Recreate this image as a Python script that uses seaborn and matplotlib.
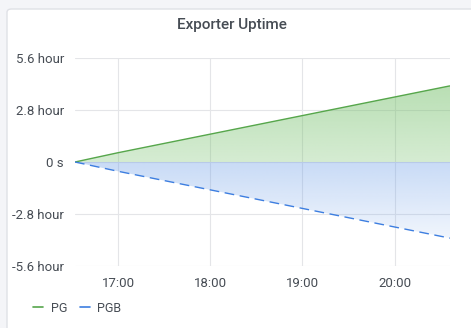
import numpy as np
import pandas as pd
import matplotlib
matplotlib.use("Agg")
import matplotlib.pyplot as plt
import matplotlib.dates as mdates
from matplotlib.patches import FancyBboxPatch
from matplotlib.lines import Line2D
import seaborn as sns

# ---- data ----
times = ["16:32", "17:00", "18:00", "19:00", "20:00", "20:36"]
pg_hours = [0.0, 0.5, 1.5, 2.5, 3.5, 4.1]
pgb_hours = [0.0, -0.5, -1.5, -2.5, -3.5, -4.1]
series_names = ["PG", "PGB"]
y_ticks_hours = [-5.6, -2.8, 0.0, 2.8, 5.6]
y_tick_labels = ["-5.6 hour", "-2.8 hour", "0 s", "2.8 hour", "5.6 hour"]
x_tick_labels = ["17:00", "18:00", "19:00", "20:00"]
title = "Exporter Uptime"

# ---- styling ----
sns.set_style("white")
plt.rcParams["font.family"] = ["Roboto", "DejaVu Sans"]
TXT = "#464c54"
GREEN = "#56a64b"
BLUE = "#3d7ee0"

day = "2024-01-01 "
t = pd.to_datetime([day + s for s in times])
df = pd.DataFrame({
    "time": list(t) * 2,
    "seconds": [h * 3600 for h in pg_hours] + [h * 3600 for h in pgb_hours],
    "series": [series_names[0]] * len(t) + [series_names[1]] * len(t),
})

fig = plt.figure(figsize=(4.71, 3.28), dpi=100)
fig.patch.set_facecolor("#f4f5f8")
W, H = 471, 328
panel = FancyBboxPatch((7 / W, -0.05), 1.0, (H - 9) / H + 0.05,
                       boxstyle="round,pad=0,rounding_size=0.01",
                       transform=fig.transFigure, facecolor="white",
                       edgecolor="#dfe1e6", linewidth=1.0, zorder=-5)
fig.patches.append(panel)

ax = fig.add_axes([75 / W, 1 - 266 / H, (450 - 75) / W, (266 - 58) / H])
ax.set_facecolor("none")
ax.set_zorder(1)

sns.lineplot(data=df, x="time", y="seconds", hue="series", style="series",
             palette=[GREEN, BLUE], dashes=[(1, 0), (7, 4)], linewidth=1.0,
             ax=ax, legend=False, zorder=3)

ymin, ymax = -5.6 * 3600, 5.6 * 3600
x0, x1 = mdates.date2num(t[0]), mdates.date2num(t[-1])

pg_s = np.array(pg_hours) * 3600
pgb_s = np.array(pgb_hours) * 3600
top = pg_s.max()
bot = pgb_s.min()

poly_g = ax.fill_between(t, 0, pg_s, color="none", linewidth=0)
grad_g = np.zeros((100, 1, 4))
grad_g[:, 0, :3] = matplotlib.colors.to_rgb("#73bf69")
grad_g[:, 0, 3] = np.linspace(0.5, 0.3, 100)
im_g = ax.imshow(grad_g, extent=[x0, x1, 0, top], aspect="auto",
                 origin="upper", zorder=1, interpolation="bilinear")
im_g.set_clip_path(poly_g.get_paths()[0], transform=ax.transData)

poly_b = ax.fill_between(t, pgb_s, 0, color="none", linewidth=0)
grad_b = np.zeros((100, 1, 4))
grad_b[:, 0, :3] = matplotlib.colors.to_rgb("#6e9fe8")
grad_b[:, 0, 3] = np.linspace(0.38, 0.1, 100)
im_b = ax.imshow(grad_b, extent=[x0, x1, bot, 0], aspect="auto",
                 origin="upper", zorder=1, interpolation="bilinear")
im_b.set_clip_path(poly_b.get_paths()[0], transform=ax.transData)

ax.set_xlim(x0, x1)
ax.set_ylim(ymin, ymax)
ax.set_yticks([h * 3600 for h in y_ticks_hours])
ax.set_yticklabels(y_tick_labels)
xt = pd.to_datetime([day + s for s in x_tick_labels])
ax.set_xticks(mdates.date2num(xt))
ax.set_xticklabels(x_tick_labels)
ax.grid(True, color="#e4e5e8", linewidth=0.8, zorder=0)
ax.set_axisbelow(True)
for sp in ax.spines.values():
    sp.set_visible(False)
ax.tick_params(axis="both", length=0, colors=TXT, labelsize=9.5)
ax.tick_params(axis="y", pad=8)
ax.tick_params(axis="x", pad=8)
ax.set_xlabel("")
ax.set_ylabel("")

fig.text(232 / W, 1 - 25 / H, title, ha="center", va="center",
         fontsize=11, fontweight="medium", color=TXT)

handles = [Line2D([], [], color=GREEN, lw=1.2), Line2D([], [], color=BLUE, lw=1.2)]
fig.legend(handles, series_names, loc="center left",
           bbox_to_anchor=(22 / W, 1 - 308 / H), ncol=2, frameon=False,
           handlelength=0.8, handletextpad=0.6, columnspacing=1.0,
           fontsize=9, labelcolor=TXT)

fig.savefig("out.png", dpi=100, facecolor=fig.get_facecolor())
